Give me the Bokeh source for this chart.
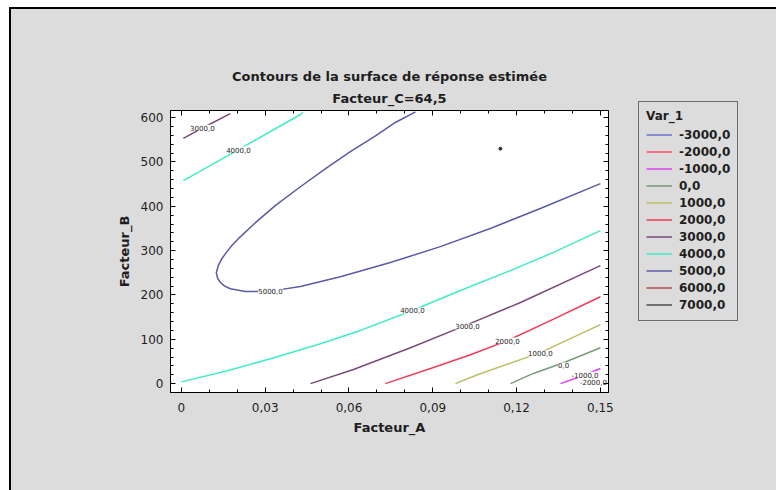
from bokeh.plotting import figure
from bokeh.layouts import row
from bokeh.models import (FixedTicker, LinearAxis, Legend, LegendItem, Title,
                          ColumnDataSource, Range1d)
from bokeh.core.properties import value
from bokeh.embed import file_html
from bokeh.resources import INLINE

FONT = "DejaVu Sans"
INK = "#1e1e1e"
BG = "#dcdcdc"

# ---------------- data ----------------
levels = [-3000, -2000, -1000, 0, 1000, 2000, 3000, 4000, 5000, 6000, 7000]
level_labels = ["-3000,0", "-2000,0", "-1000,0", "0,0", "1000,0", "2000,0",
                "3000,0", "4000,0", "5000,0", "6000,0", "7000,0"]
level_colors = ["#7070d0", "#ff4f70", "#e040f0", "#7a9a7a", "#bcbc60", "#f03a5a",
                "#7a4a7a", "#40ecc8", "#5a5aa8", "#b05050", "#4a4a4a"]

x_ticks = [0, 0.03, 0.06, 0.09, 0.12, 0.15]
x_tick_labels = ["0", "0,03", "0,06", "0,09", "0,12", "0,15"]
y_ticks = [0, 100, 200, 300, 400, 500, 600]

# contour polylines (Facteur_A, Facteur_B)
cm2000_x = [0.1482, 0.15]
cm2000_y = [0, 4.5]
cm1000_x = [0.1357, 0.1429, 0.15]
cm1000_y = [0, 16, 34]
c0_x = [0.1178, 0.126, 0.1368, 0.15]
c0_y = [0, 23, 47, 81]
c1000_x = [0.0981, 0.106, 0.1285, 0.15]
c1000_y = [0, 20, 70, 133]
c2000_x = [0.073, 0.0892, 0.1035, 0.1167, 0.1321, 0.15]
c2000_y = [0, 34, 65, 97, 142, 196]
c3000a_x = [0.0462, 0.0616, 0.082, 0.1024, 0.1214, 0.15]
c3000a_y = [0, 32, 81, 133, 183, 266]
c3000b_x = [0.0007, 0.0086, 0.0175]
c3000b_y = [553, 580, 609]
c4000a_x = [0, 0.0165, 0.0319, 0.0498, 0.0641, 0.0827, 0.0999, 0.1178, 0.1332, 0.15]
c4000a_y = [4, 29, 56, 90, 120, 165, 210, 255, 296, 345]
c4000b_x = [0.0007, 0.0211, 0.0426, 0.0435]
c4000b_y = [458, 530, 607, 612]
c5000_x = [0.0838, 0.0766, 0.0695, 0.0605, 0.0516, 0.0426, 0.0337, 0.0265, 0.0204,
           0.018, 0.0161, 0.0144, 0.0132, 0.0125, 0.013, 0.014, 0.0155, 0.0175,
           0.0229, 0.029, 0.0354, 0.0426, 0.0569, 0.0748, 0.0927, 0.1106, 0.1285, 0.15]
c5000_y = [613, 589, 559, 523, 485, 444, 402, 363, 327, 311, 296, 281, 266, 250,
           237, 228, 220, 214, 208, 208, 212, 219, 241, 273, 309, 350, 395, 451]

contour_xs = {-3000: [], -2000: [cm2000_x], -1000: [cm1000_x], 0: [c0_x],
              1000: [c1000_x], 2000: [c2000_x], 3000: [c3000a_x, c3000b_x],
              4000: [c4000a_x, c4000b_x], 5000: [c5000_x], 6000: [], 7000: []}
contour_ys = {-3000: [], -2000: [cm2000_y], -1000: [cm1000_y], 0: [c0_y],
              1000: [c1000_y], 2000: [c2000_y], 3000: [c3000a_y, c3000b_y],
              4000: [c4000a_y, c4000b_y], 5000: [c5000_y], 6000: [], 7000: []}

# inline contour labels
clab_x = [0.0075, 0.0204, 0.0319, 0.0827, 0.1024, 0.1167, 0.1285, 0.1368, 0.1445, 0.1475]
clab_y = [577, 528, 210, 165, 129, 97, 68, 41, 20, 3]
clab_text = ["3000,0", "4000,0", "5000,0", "4000,0", "3000,0", "2000,0",
             "1000,0", "0,0", "-1000,0", "-2000,0"]

opt_x = [0.1142]
opt_y = [530]

# ---------------- main figure ----------------
p = figure(width=627, height=481, output_backend="svg", toolbar_location=None,
           x_range=Range1d(-0.0039, 0.1529), y_range=Range1d(-20, 616),
           min_border_left=159, min_border_right=30,
           min_border_top=101, min_border_bottom=98)
p.border_fill_color = BG
p.background_fill_color = "white"
p.outline_line_color = "black"
p.xgrid.visible = False
p.ygrid.visible = False

xt = FixedTicker(ticks=x_ticks, minor_ticks=[i / 100 for i in range(0, 16)])
yt = FixedTicker(ticks=y_ticks, minor_ticks=list(range(0, 620, 20)))
overrides = dict(zip(x_ticks, x_tick_labels))


def style_axis(ax, labels=True):
    ax.major_tick_in = 5
    ax.major_tick_out = 0
    ax.minor_tick_in = 3
    ax.minor_tick_out = 0
    ax.axis_line_color = "black"
    ax.major_tick_line_color = "black"
    ax.minor_tick_line_color = "black"
    ax.major_label_text_font = FONT
    ax.major_label_text_font_size = "12px"
    ax.major_label_text_color = INK if labels else None
    ax.axis_label_text_font = FONT
    ax.axis_label_text_font_size = "13px"
    ax.axis_label_text_font_style = "bold"
    ax.axis_label_text_color = INK


p.xaxis.ticker = xt
p.yaxis.ticker = yt
p.xaxis.major_label_overrides = overrides
p.xaxis.axis_label = "Facteur_A"
p.yaxis.axis_label = "Facteur_B"
style_axis(p.xaxis[0])
style_axis(p.yaxis[0])
p.xaxis.major_label_standoff = 10
p.yaxis.major_label_standoff = 7
p.xaxis.axis_label_standoff = 5
p.yaxis.axis_label_standoff = 6

top_ax = LinearAxis(ticker=xt)
right_ax = LinearAxis(ticker=yt)
style_axis(top_ax, labels=False)
style_axis(right_ax, labels=False)
top_ax.major_label_standoff = 0
right_ax.major_label_standoff = 0
p.add_layout(top_ax, "above")
p.add_layout(right_ax, "right")

for lev, col in zip(levels, level_colors):
    if contour_xs[lev]:
        p.multi_line(xs=contour_xs[lev], ys=contour_ys[lev], line_color=col, line_width=1.5)

p.scatter(opt_x, opt_y, size=3, color="#333333")

src = ColumnDataSource(dict(x=clab_x, y=clab_y, t=clab_text))
p.text(x="x", y="y", text="t", source=src, text_font=value(FONT),
       text_font_size=value("7px"), text_color=INK, text_align="center",
       text_baseline="middle", background_fill_color="white")

p.add_layout(Title(text="Facteur_C=64,5", align="center", standoff=10,
                   text_font=FONT, text_font_size="13px", text_font_style="bold",
                   text_color=INK), "above")
p.add_layout(Title(text="Contours de la surface de réponse estimée", align="center",
                   standoff=0, text_font=FONT, text_font_size="13px",
                   text_font_style="bold", text_color=INK), "above")

# ---------------- legend panel ----------------
pl = figure(width=138, height=481, output_backend="svg", toolbar_location=None,
            x_range=Range1d(0, 1), y_range=Range1d(0, 1),
            x_axis_type=None, y_axis_type=None, min_border=0)
pl.border_fill_color = BG
pl.background_fill_color = BG
pl.outline_line_color = None
pl.xgrid.visible = False
pl.ygrid.visible = False
if hasattr(pl, "frame_align"):
    pl.frame_align = False
    p.frame_align = False

items = []
for lab, col in zip(level_labels, level_colors):
    r = pl.line(x=[float("nan")], y=[float("nan")], line_color=col, line_width=1.5)
    items.append(LegendItem(label=lab, renderers=[r]))

legend = Legend(items=items, location=(0, 169), title="Var_1",
                title_text_font=FONT, title_text_font_size="12px",
                title_text_font_style="bold", title_text_color=INK,
                title_standoff=3,
                label_text_font=FONT, label_text_font_size="12px",
                label_text_font_style="bold", label_text_color=INK,
                glyph_width=26, glyph_height=17, label_height=17, spacing=0,
                label_standoff=7, padding=7, margin=0,
                border_line_color="black", border_line_width=1,
                background_fill_color=BG, background_fill_alpha=1)
pl.add_layout(legend, "center")

lay = row(p, pl, spacing=0)
lay.margin = (7, 0, 0, 9)
lay.styles = {"border-top": "2px solid black", "border-left": "2px solid black",
              "background-color": BG}

open("out.html", "w").write(file_html(lay, INLINE))
